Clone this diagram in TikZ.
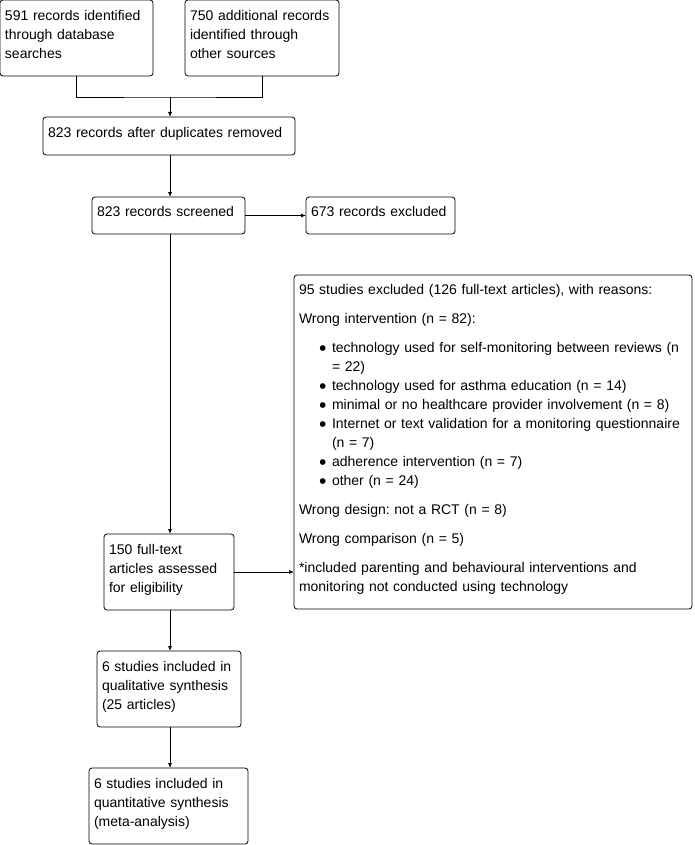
\documentclass[tikz,border=0pt]{standalone}
\usepackage{fontspec}
\setmainfont{Liberation Sans}
\usepackage{graphicx}
\usetikzlibrary{arrows.meta}
\frenchspacing
\tikzset{
  box/.style={draw, rounded corners=3pt, anchor=north west, outer sep=0pt,
    inner xsep=5pt, inner ysep=0pt, align=left, font=\fontsize{14}{19}\selectfont,
    execute at end node={\rule[-8pt]{0pt}{0pt}}},
  arr/.style={-{Latex[length=5pt,width=4pt]}},
}
\newcommand{\blt}{\hspace*{20pt}\makebox[13pt][l]{\raisebox{-2.5pt}{\scalebox{1.5}{\textbullet}}}}
\newcommand{\cont}{\hspace*{33pt}}
\begin{document}
\begin{tikzpicture}[x=1pt, y=-1pt, line width=0.8pt]
    \useasboundingbox (0,0) rectangle (694,845);

    % Identification
    \node[box, text width=143pt, minimum height=76pt] (srcdb) at (0,0)
        {591 records identified\\through database\\searches};
    \node[box, text width=144pt, minimum height=76pt] (srcother) at (185,0)
        {750 additional records\\identified through\\other sources};

    % Screening
    \node[box, text width=242pt, minimum height=38pt] (dedup) at (43,117)
        {823 records after duplicates removed};
    \node[box, text width=143pt, minimum height=37pt] (screened) at (92,197)
        {823 records screened};
    \node[box, text width=139pt, minimum height=37pt] (excl) at (306,197)
        {673 records excluded};

    % Eligibility
    \node[box, text width=120pt, minimum height=76pt] (fulltext) at (104,534)
        {150 full-text\\articles assessed\\for eligibility};
    \node[box, text width=388pt, minimum height=334pt] (fullexcl) at (294,275)
        {95 studies excluded (126 full-text articles), with reasons:\\[10pt]
         Wrong intervention (n = 82):\\[10pt]
         \blt technology used for self-monitoring between reviews (n\\
         \cont = 22)\\
         \blt technology used for asthma education (n = 14)\\
         \blt minimal or no healthcare provider involvement (n = 8)\\
         \blt Internet or text validation for a monitoring questionnaire\\
         \cont (n = 7)\\
         \blt adherence intervention (n = 7)\\
         \blt other (n = 24)\\[10pt]
         Wrong design: not a RCT (n = 8)\\[10pt]
         Wrong comparison (n = 5)\\[10pt]
         *included parenting and behavioural interventions and\\
         monitoring not conducted using technology};

    % Included
    \node[box, text width=134pt, minimum height=76pt] (qual) at (97,651)
        {6 studies included in\\qualitative synthesis\\(25 articles)};
    \node[box, text width=149pt, minimum height=76pt] (quant) at (89,768)
        {6 studies included in\\quantitative synthesis\\(meta-analysis)};

    % Connections
    \coordinate (join) at (170,97);
    \draw (srcdb.south) |- (join) -| (srcother.south);
    \draw[arr] (join) -- (join |- dedup.north);
    \draw[arr] (join |- dedup.south) -- (join |- screened.north);
    \draw[arr] (screened.east) -- (screened.east -| excl.west);
    \draw[arr] (join |- screened.south) -- (join |- fulltext.north);
    \draw[arr] (fulltext.east) -- (fulltext.east -| fullexcl.west);
    \draw[arr] (join |- fulltext.south) -- (join |- qual.north);
    \draw[arr] (join |- qual.south) -- (join |- quant.north);
\end{tikzpicture}
\end{document}
